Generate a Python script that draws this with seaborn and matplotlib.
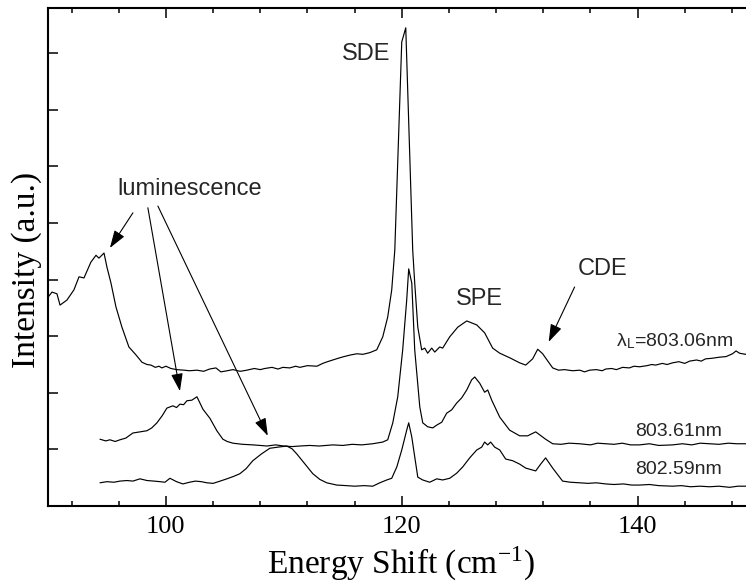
import numpy as np
import pandas as pd
import matplotlib
matplotlib.use("Agg")
import matplotlib.pyplot as plt
import seaborn as sns

# ---- Raman spectra (energy shift in cm^-1, intensity offset per trace) ----
shift_803_06 = [90.00, 90.34, 90.76, 91.02, 91.61, 92.20, 92.63, 93.05, 93.64, 94.07,
                94.32, 94.75, 95.00, 95.34, 95.76, 96.27, 96.86, 97.46, 97.97, 98.40,
                98.73, 99.10, 99.41, 99.66, 100.00, 100.42, 100.90, 101.53, 102.00, 102.63,
                103.20, 103.70, 104.24, 104.66, 105.20, 105.68, 106.30, 106.86, 107.50, 108.00,
                108.39, 109.00, 109.50, 109.92, 110.50, 111.00, 111.36, 112.00, 112.80, 113.30,
                113.70, 114.15, 114.60, 115.10, 115.68, 116.20, 116.70, 117.29, 117.88, 118.39,
                118.81, 119.15, 119.41, 120.00, 120.34, 120.93, 121.10, 121.36, 121.69, 121.95,
                122.20, 122.54, 122.80, 123.22, 123.47, 124.07, 124.75, 125.51, 126.36, 127.03,
                127.71, 128.31, 129.15, 130.00, 130.51, 131.10, 131.53, 131.95, 132.80, 133.30,
                133.80, 134.49, 135.10, 135.50, 135.93, 136.50, 137.00, 137.29, 137.80, 138.20,
                138.73, 139.30, 139.70, 140.17, 140.80, 141.20, 141.53, 142.10, 142.50, 142.97,
                143.50, 144.00, 144.41, 145.00, 145.40, 145.76, 146.30, 146.95, 147.50, 148.05,
                148.35, 148.64, 149.15, 149.60, 150.00]
inten_803_06 = [3.69, 3.78, 3.75, 3.55, 3.64, 3.82, 4.05, 4.03, 4.31, 4.43,
                4.38, 4.47, 4.22, 3.94, 3.52, 3.16, 2.81, 2.67, 2.54, 2.50,
                2.49, 2.45, 2.47, 2.44, 2.47, 2.43, 2.41, 2.40, 2.39, 2.40,
                2.38, 2.42, 2.44, 2.37, 2.39, 2.41, 2.38, 2.40, 2.43, 2.41,
                2.43, 2.45, 2.42, 2.45, 2.44, 2.47, 2.45, 2.48, 2.47, 2.52,
                2.55, 2.58, 2.61, 2.64, 2.67, 2.69, 2.68, 2.71, 2.76, 2.99,
                3.34, 3.82, 4.52, 8.20, 8.45, 4.52, 3.94, 3.16, 2.76, 2.79,
                2.70, 2.79, 2.72, 2.81, 2.79, 2.99, 3.16, 3.27, 3.20, 3.06,
                2.79, 2.70, 2.62, 2.53, 2.49, 2.60, 2.77, 2.69, 2.44, 2.40,
                2.41, 2.39, 2.40, 2.37, 2.40, 2.41, 2.39, 2.42, 2.43, 2.41,
                2.45, 2.44, 2.47, 2.46, 2.48, 2.50, 2.49, 2.52, 2.50, 2.53,
                2.55, 2.52, 2.56, 2.58, 2.56, 2.60, 2.61, 2.63, 2.64, 2.69,
                2.74, 2.70, 2.68, 2.72, 2.71]

shift_803_61 = [94.41, 94.90, 95.25, 95.70, 96.10, 96.60, 97.20, 97.80, 98.39, 98.80,
                99.24, 99.70, 100.08, 100.59, 100.90, 101.19, 101.50, 101.78, 102.20, 102.63,
                103.14, 103.73, 104.32, 104.83, 105.20, 105.68, 106.50, 107.37, 108.00, 108.56,
                109.30, 110.00, 110.70, 111.36, 112.20, 113.00, 114.15, 115.00, 115.80, 116.60,
                117.54, 118.39, 118.81, 119.24, 119.66, 120.08, 120.42, 120.59, 120.85, 121.10,
                121.53, 121.78, 122.20, 122.63, 122.97, 123.39, 123.81, 124.24, 124.66, 125.08,
                125.51, 125.93, 126.19, 126.61, 127.03, 127.29, 127.63, 128.31, 129.15, 130.00,
                130.68, 131.36, 132.20, 132.80, 133.50, 134.20, 135.08, 136.00, 136.60, 137.29,
                138.00, 138.70, 139.40, 140.17, 141.00, 141.80, 142.97, 143.80, 144.60, 145.30,
                146.10, 146.90, 147.70, 148.40, 149.15, 150.00]
inten_803_61 = [1.18, 1.15, 1.17, 1.14, 1.17, 1.20, 1.29, 1.31, 1.33, 1.38,
                1.47, 1.60, 1.73, 1.77, 1.74, 1.80, 1.79, 1.86, 1.87, 1.93,
                1.71, 1.55, 1.33, 1.18, 1.14, 1.11, 1.09, 1.08, 1.07, 1.06,
                1.08, 1.06, 1.05, 1.06, 1.07, 1.06, 1.08, 1.07, 1.09, 1.08,
                1.10, 1.13, 1.17, 1.47, 1.93, 2.76, 3.64, 4.19, 3.94, 2.76,
                1.75, 1.47, 1.40, 1.38, 1.43, 1.48, 1.64, 1.70, 1.82, 1.91,
                2.05, 2.23, 2.28, 2.17, 2.01, 2.05, 1.87, 1.57, 1.34, 1.24,
                1.24, 1.31, 1.18, 1.10, 1.09, 1.11, 1.10, 1.08, 1.11, 1.10,
                1.09, 1.11, 1.08, 1.08, 1.10, 1.07, 1.08, 1.10, 1.08, 1.11,
                1.10, 1.09, 1.11, 1.10, 1.10, 1.11]

shift_802_59 = [94.41, 95.00, 95.60, 96.10, 96.70, 97.20, 97.80, 98.40, 99.00, 99.50,
                99.92, 100.34, 100.90, 101.44, 102.00, 102.50, 103.00, 103.47, 104.00, 104.60,
                105.17, 105.70, 106.27, 106.80, 107.37, 108.10, 108.81, 109.50, 110.25, 110.70,
                111.10, 111.80, 112.46, 113.05, 113.64, 114.49, 115.30, 116.00, 116.80, 117.54,
                118.14, 118.73, 119.15, 119.58, 120.00, 120.42, 120.59, 120.85, 121.10, 121.36,
                121.78, 122.37, 122.97, 123.47, 124.07, 124.66, 125.17, 125.76, 126.36, 126.78,
                127.03, 127.29, 127.54, 127.88, 128.31, 128.81, 129.41, 130.00, 130.51, 131.36,
                131.78, 132.20, 132.80, 133.64, 134.30, 135.08, 135.80, 136.50, 137.29, 138.00,
                138.80, 139.50, 140.17, 141.00, 141.80, 142.97, 143.70, 144.50, 145.30, 146.10,
                146.90, 147.80, 148.50, 149.15, 150.00]
inten_802_59 = [0.41, 0.43, 0.42, 0.44, 0.45, 0.44, 0.48, 0.45, 0.44, 0.43,
                0.42, 0.49, 0.43, 0.39, 0.42, 0.44, 0.43, 0.41, 0.40, 0.44,
                0.48, 0.52, 0.57, 0.66, 0.80, 0.92, 1.02, 1.04, 1.06, 1.01,
                0.92, 0.74, 0.57, 0.47, 0.41, 0.37, 0.36, 0.35, 0.36, 0.35,
                0.41, 0.46, 0.49, 0.69, 0.99, 1.34, 1.47, 1.22, 0.87, 0.51,
                0.46, 0.42, 0.48, 0.46, 0.49, 0.58, 0.69, 0.85, 0.99, 1.04,
                1.13, 1.08, 1.13, 1.04, 0.99, 0.83, 0.80, 0.74, 0.67, 0.62,
                0.74, 0.85, 0.67, 0.44, 0.42, 0.41, 0.40, 0.41, 0.39, 0.38,
                0.39, 0.37, 0.37, 0.38, 0.36, 0.35, 0.36, 0.34, 0.35, 0.34,
                0.35, 0.33, 0.35, 0.35, 0.34]

trace_names = ["803.06nm", "803.61nm", "802.59nm"]

x_ticks_major = [100, 120, 140]
y_tick_positions = [1, 2, 3, 4, 5, 6, 7, 8]

# ---- assemble a long-form table for seaborn ----
frames = []
for name, xs, ys in zip(trace_names,
                        [shift_803_06, shift_803_61, shift_802_59],
                        [inten_803_06, inten_803_61, inten_802_59]):
    frames.append(pd.DataFrame({"shift": xs, "intensity": ys, "trace": name}))
spectra = pd.concat(frames, ignore_index=True)

sns.set_theme(style="white")
plt.rcParams["font.family"] = ["Liberation Serif", "DejaVu Serif"]
plt.rcParams["mathtext.fontset"] = "stix"

W, H, DPI = 746, 582, 100
fig = plt.figure(figsize=(W / DPI, H / DPI), dpi=DPI)
# axes box in pixels: left 48, right 755.5, top 8, bottom 506
ax = fig.add_axes([48 / W, 1 - 506 / H, (755.5 - 48) / W, (506 - 8) / H])

sns.lineplot(data=spectra, x="shift", y="intensity", hue="trace",
             palette=["black"] * 3, estimator=None, sort=False,
             legend=False, linewidth=0.85, ax=ax)

ax.set_xlim(90, 150)
ax.set_ylim(0, 8.8)
ax.set_xlabel("")
ax.set_ylabel("")

ax.set_xticks(x_ticks_major)
ax.set_xticklabels([str(v) for v in x_ticks_major])
ax.set_xticks(np.arange(92, 150, 4), minor=True)
ax.set_yticks(y_tick_positions)
ax.set_yticklabels([])

for side in ["left", "right", "top", "bottom"]:
    ax.spines[side].set_linewidth(1.5)
    ax.spines[side].set_color("black")

ax.tick_params(axis="both", which="major", direction="in", length=7.2, width=1.1,
               color="black", top=True, right=True, bottom=True, left=True)
ax.tick_params(axis="x", which="minor", direction="in", length=3.6, width=1.1,
               color="black", top=True, bottom=True)
ax.tick_params(axis="x", which="major", labelsize=19, pad=7.5, labelcolor="black")

# axis titles
fig.text(401.5 / W, 1 - 573 / H, "Energy Shift (cm$^{\\mathregular{-1}}$)", fontsize=24,
         ha="center", va="baseline", color="black")
fig.text(27 / W, 1 - 270 / H, "Intensity (a.u.)", fontsize=24, rotation=90,
         ha="center", va="center", color="black")

# peak / trace annotations
sans = ["Liberation Sans", "DejaVu Sans"]
ax.text(114.92, 7.88, "SDE", fontsize=17, family=sans, ha="left", va="baseline")
ax.text(124.58, 3.55, "SPE", fontsize=17, family=sans, ha="left", va="baseline")
ax.text(134.92, 4.08, "CDE", fontsize=17, family=sans, ha="left", va="baseline")
ax.text(95.85, 5.49, "luminescence", fontsize=17, family=sans, ha="left", va="baseline")

ax.text(138.14, 2.83, "λ$_\\mathregular{L}$=803.06nm", fontsize=14, family=sans,
        ha="left", va="baseline")
ax.text(139.83, 1.24, "803.61nm", fontsize=14, family=sans, ha="left", va="baseline")
ax.text(139.75, 0.57, "802.59nm", fontsize=14, family=sans, ha="left", va="baseline")

arrow_kw = dict(arrowstyle="-|>,head_length=0.9,head_width=0.3", color="black",
                lw=0.8, shrinkA=0, shrinkB=0, mutation_scale=12)
for (x0, y0), (x1, y1) in [((97.20, 5.18), (95.25, 4.56)),
                           ((98.47, 5.27), (101.19, 2.03)),
                           ((99.32, 5.30), (108.64, 1.24)),
                           ((134.66, 3.87), (132.46, 2.90))]:
    ax.annotate("", xy=(x1, y1), xytext=(x0, y0), arrowprops=arrow_kw)

fig.savefig("out.png", dpi=DPI, facecolor="white")
